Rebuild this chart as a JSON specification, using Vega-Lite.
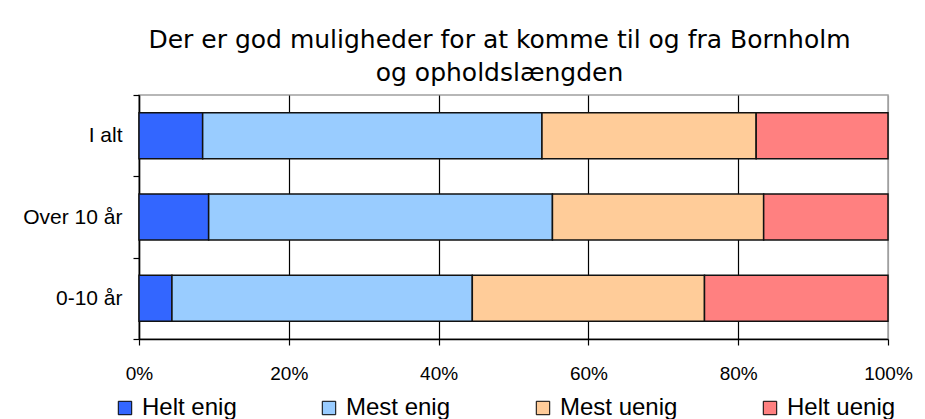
{
  "$schema": "https://vega.github.io/schema/vega-lite/v6.json",
  "autosize": {"type": "none"},
  "padding": {"left": 139, "top": 95, "right": 37, "bottom": 80},
  "width": 749,
  "height": 244,
  "background": "white",
  "title": {
    "text": ["Der er god muligheder for at komme til og fra Bornholm", "og opholdslængden"],
    "font": "DejaVu Sans",
    "fontSize": 25,
    "fontWeight": "normal",
    "lineHeight": 33,
    "color": "black",
    "anchor": "middle",
    "frame": "group",
    "dx": -14,
    "dy": 5,
    "offset": 3
  },
  "data": {
    "values": [
      {"group": "I alt", "svar": "Helt enig", "value": 8.5, "ord": 1},
      {"group": "I alt", "svar": "Mest enig", "value": 45.3, "ord": 2},
      {"group": "I alt", "svar": "Mest uenig", "value": 28.6, "ord": 3},
      {"group": "I alt", "svar": "Helt uenig", "value": 17.6, "ord": 4},
      {"group": "Over 10 år", "svar": "Helt enig", "value": 9.3, "ord": 1},
      {"group": "Over 10 år", "svar": "Mest enig", "value": 45.9, "ord": 2},
      {"group": "Over 10 år", "svar": "Mest uenig", "value": 28.2, "ord": 3},
      {"group": "Over 10 år", "svar": "Helt uenig", "value": 16.6, "ord": 4},
      {"group": "0-10 år", "svar": "Helt enig", "value": 4.4, "ord": 1},
      {"group": "0-10 år", "svar": "Mest enig", "value": 40.1, "ord": 2},
      {"group": "0-10 år", "svar": "Mest uenig", "value": 31.0, "ord": 3},
      {"group": "0-10 år", "svar": "Helt uenig", "value": 24.5, "ord": 4}
    ]
  },
  "mark": {"type": "bar", "height": {"band": 0.566}, "stroke": "#111111", "strokeWidth": 1.5},
  "encoding": {
    "y": {
      "field": "group",
      "type": "nominal",
      "sort": ["I alt", "Over 10 år", "0-10 år"],
      "scale": {"paddingInner": 0, "paddingOuter": 0},
      "axis": {
        "title": null,
        "tickBand": "extent",
        "labelFont": "Liberation Sans",
        "labelFontSize": 21,
        "labelColor": "black",
        "labelPadding": 11,
        "tickSize": 6,
        "tickColor": "black",
        "domainColor": "black",
        "grid": false
      }
    },
    "x": {
      "field": "value",
      "type": "quantitative",
      "stack": "normalize",
      "scale": {"domain": [0, 1]},
      "axis": {
        "title": null,
        "values": [0, 0.2, 0.4, 0.6, 0.8, 1],
        "format": ".0%",
        "labelFont": "Liberation Sans",
        "labelFontSize": 19,
        "labelColor": "black",
        "labelPadding": 19,
        "tickSize": 6,
        "tickColor": "black",
        "domainColor": "black",
        "grid": true,
        "gridColor": {"condition": {"test": "datum.value >= 1", "value": "#a0a0a0"}, "value": "black"},
        "gridOpacity": 1,
        "labelFlush": false
      }
    },
    "color": {
      "field": "svar",
      "type": "nominal",
      "sort": ["Helt enig", "Mest enig", "Mest uenig", "Helt uenig"],
      "scale": {
        "domain": ["Helt enig", "Mest enig", "Mest uenig", "Helt uenig"],
        "range": ["#3366FF", "#99CCFF", "#FFCC99", "#FF8080"]
      },
      "legend": {
        "title": null,
        "orient": "none",
        "direction": "horizontal",
        "legendX": -26,
        "legendY": 301,
        "symbolType": "square",
        "symbolSize": 180,
        "symbolStrokeColor": "black",
        "symbolStrokeWidth": 1,
        "symbolOpacity": 1,
        "labelFont": "Liberation Sans",
        "labelFontSize": 24,
        "labelColor": "black",
        "labelOffset": 5,
        "columnPadding": 80,
        "labelLimit": 300
      }
    },
    "order": {"field": "ord", "type": "quantitative"}
  },
  "config": {
    "view": {"stroke": "#a0a0a0", "strokeWidth": 1.5},
    "axis": {"domainWidth": 1.5, "gridWidth": 1.2, "tickWidth": 1.2}
  }
}
